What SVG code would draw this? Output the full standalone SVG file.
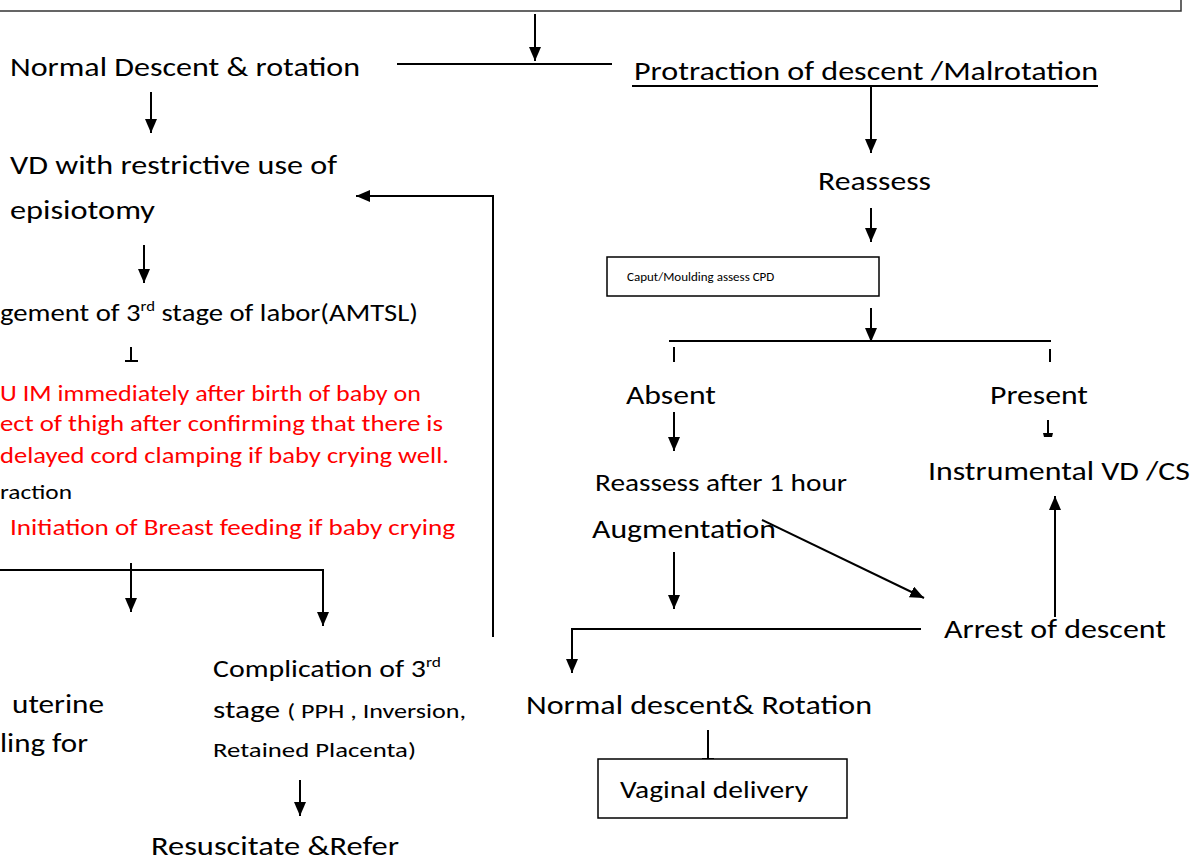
<svg xmlns="http://www.w3.org/2000/svg" width="1194" height="860" viewBox="0 0 1194 860">
  <style>
    text { font-family: Carlito, Lato, "Liberation Sans", sans-serif; fill: #000; }
    .big { font-size: 27px; }
    .mid { font-size: 24px; }
    .sm { font-size: 21px; }
    .red { fill: #ff0000; font-size: 22px; }
    .tiny { font-size: 13px; }
    .ln { stroke: #000; stroke-width: 2; fill: none; }
    .box { stroke: #000; stroke-width: 1.5; fill: #fff; }
  </style>
  <defs>
    <marker id="ah" markerUnits="userSpaceOnUse" markerWidth="14" markerHeight="12" refX="14" refY="6" orient="auto">
      <path d="M0,0 L14,6 L0,12 z" fill="#000"/>
    </marker>
  </defs>

  <rect width="1194" height="860" fill="#fff"/>

  <!-- header frame running off the top edge -->
  <path d="M0,11 H1181 V-2" stroke="#333" stroke-width="1.5" fill="none"/>

  <g id="connectors">
    <line class="ln" x1="535" y1="14" x2="535" y2="61" marker-end="url(#ah)"/>
    <line class="ln" x1="397" y1="64" x2="612" y2="64"/>
    <line class="ln" x1="151" y1="92" x2="151" y2="133" marker-end="url(#ah)"/>
    <line class="ln" x1="871" y1="86" x2="871" y2="153" marker-end="url(#ah)"/>
    <line class="ln" x1="871" y1="208" x2="871" y2="242" marker-end="url(#ah)"/>
    <line class="ln" x1="871" y1="308" x2="871" y2="342" marker-end="url(#ah)"/>
    <line class="ln" x1="669" y1="341" x2="1051" y2="341"/>
    <line class="ln" x1="674" y1="347" x2="674" y2="362"/>
    <line class="ln" x1="1050" y1="349" x2="1050" y2="362"/>
    <line class="ln" x1="674" y1="412" x2="674" y2="451" marker-end="url(#ah)"/>
    <line class="ln" x1="1048" y1="420" x2="1048" y2="433"/>
    <path d="M1043,433 H1053 L1052,437 H1044 z" fill="#000"/>
    <line class="ln" x1="762" y1="520" x2="924" y2="598" marker-end="url(#ah)"/>
    <line class="ln" x1="674" y1="552" x2="674" y2="609" marker-end="url(#ah)"/>
    <line class="ln" x1="1055" y1="617" x2="1055" y2="496" marker-end="url(#ah)"/>
    <polyline class="ln" points="921,629 572,629 572,673" marker-end="url(#ah)"/>
    <line class="ln" x1="708" y1="730" x2="708" y2="760"/>
    <line class="ln" x1="702" y1="759" x2="714" y2="759"/>
    <!-- feedback loop back to VD -->
    <polyline class="ln" points="493,637 493,196 356,196" marker-end="url(#ah)"/>
    <line class="ln" x1="144" y1="245" x2="144" y2="283" marker-end="url(#ah)"/>
    <line class="ln" x1="131" y1="347" x2="131" y2="361"/>
    <line class="ln" x1="125" y1="361" x2="138" y2="361"/>
    <polyline class="ln" points="0,570 323,570 323,626" marker-end="url(#ah)"/>
    <line class="ln" x1="131" y1="563" x2="131" y2="612" marker-end="url(#ah)"/>
    <line class="ln" x1="300" y1="780" x2="300" y2="816" marker-end="url(#ah)"/>
  </g>

  <g id="normal-descent">
    <text class="big" x="10" y="76" textLength="350" lengthAdjust="spacingAndGlyphs">Normal Descent &amp; rotation</text>
  </g>

  <g id="protraction">
    <text class="big" x="634" y="80" textLength="464" lengthAdjust="spacingAndGlyphs">Protraction of descent /Malrotation</text>
    <line x1="632" y1="86" x2="1098" y2="86" stroke="#000" stroke-width="2"/>
  </g>

  <g id="vd-episiotomy">
    <text class="big" x="10" y="174" textLength="327" lengthAdjust="spacingAndGlyphs">VD with restrictive use of</text>
    <text class="big" x="10" y="219" textLength="145" lengthAdjust="spacingAndGlyphs">episiotomy</text>
  </g>

  <g id="amtsl">
    <text class="mid" x="0" y="321" textLength="418" lengthAdjust="spacingAndGlyphs">gement of 3<tspan font-size="14" dy="-10">rd</tspan><tspan dy="10"> stage of labor(AMTSL)</tspan></text>
  </g>

  <g id="amtsl-steps">
    <text class="red" x="0" y="401" textLength="421" lengthAdjust="spacingAndGlyphs">U IM immediately after birth of baby on</text>
    <text class="red" x="0" y="431" textLength="443" lengthAdjust="spacingAndGlyphs">ect of thigh after confirming that there is</text>
    <text class="red" x="0" y="463" textLength="449" lengthAdjust="spacingAndGlyphs">delayed cord clamping if baby crying well.</text>
    <text class="sm" x="0" y="499" textLength="72" lengthAdjust="spacingAndGlyphs">raction</text>
    <text class="red" x="10" y="535" textLength="445" lengthAdjust="spacingAndGlyphs">Initiation of  Breast feeding if baby crying</text>
  </g>

  <g id="uterine">
    <text class="big" x="12" y="713" textLength="92" lengthAdjust="spacingAndGlyphs">uterine</text>
    <text class="big" x="0" y="752" textLength="88" lengthAdjust="spacingAndGlyphs">ling for</text>
  </g>

  <g id="complication">
    <text class="mid" x="213" y="677" textLength="228" lengthAdjust="spacingAndGlyphs">Complication of 3<tspan font-size="14" dy="-10">rd</tspan></text>
    <text x="213" y="718" textLength="253" lengthAdjust="spacingAndGlyphs"><tspan font-size="24">stage </tspan><tspan font-size="20">( PPH , Inversion,</tspan></text>
    <text x="213" y="757" font-size="20" textLength="203" lengthAdjust="spacingAndGlyphs">Retained Placenta)</text>
  </g>

  <g id="resuscitate">
    <text class="big" x="151" y="855" textLength="248" lengthAdjust="spacingAndGlyphs">Resuscitate &amp;Refer</text>
  </g>

  <g id="reassess">
    <text class="big" x="818" y="190" textLength="113" lengthAdjust="spacingAndGlyphs">Reassess</text>
  </g>

  <g id="caput">
    <rect class="box" x="607" y="257" width="272" height="39"/>
    <text class="tiny" x="627" y="281">Caput/Moulding assess CPD</text>
  </g>

  <g id="absent">
    <text class="big" x="626" y="404" textLength="90" lengthAdjust="spacingAndGlyphs">Absent</text>
  </g>

  <g id="present">
    <text class="big" x="990" y="404" textLength="98" lengthAdjust="spacingAndGlyphs">Present</text>
  </g>

  <g id="instrumental">
    <text class="big" x="928" y="480" textLength="262" lengthAdjust="spacingAndGlyphs">Instrumental VD /CS</text>
  </g>

  <g id="reassess-hour">
    <text class="mid" x="595" y="491" textLength="252" lengthAdjust="spacingAndGlyphs">Reassess after 1 hour</text>
  </g>

  <g id="augmentation">
    <text class="big" x="592" y="538" textLength="184" lengthAdjust="spacingAndGlyphs">Augmentation</text>
  </g>

  <g id="arrest">
    <text class="big" x="944" y="638" textLength="222" lengthAdjust="spacingAndGlyphs">Arrest of descent</text>
  </g>

  <g id="normal-rotation">
    <text class="big" x="526" y="714" textLength="346" lengthAdjust="spacingAndGlyphs">Normal descent&amp; Rotation</text>
  </g>

  <g id="vaginal-delivery">
    <rect class="box" x="598" y="759" width="249" height="59"/>
    <text class="mid" x="620" y="798" textLength="188" lengthAdjust="spacingAndGlyphs">Vaginal delivery</text>
  </g>
</svg>
